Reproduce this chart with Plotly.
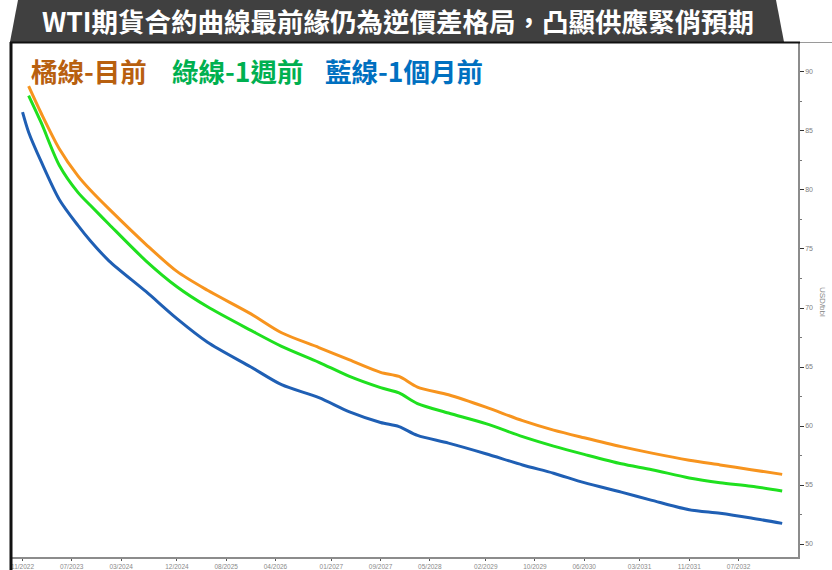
import plotly.graph_objects as go

# ---------------- data ----------------
months_common = ["2022-12", "2023-02", "2023-05", "2023-08", "2023-10", "2024-01", "2024-07",
                 "2024-12", "2025-05", "2025-12", "2026-05", "2026-11", "2027-04", "2027-09",
                 "2027-12", "2028-03", "2028-08", "2029-02", "2029-08", "2030-01", "2030-06",
                 "2030-12", "2031-05", "2031-11", "2032-04", "2032-09", "2033-02"]
months_blue = ["2022-11"] + months_common

orange_now = [88.8, 86.5, 83.5, 81.2, 80.0, 78.4, 75.4, 73.1, 71.5, 69.5, 67.9, 66.65, 65.6, 64.55,
              64.2, 63.3, 62.65, 61.6, 60.45, 59.65, 59.0, 58.25, 57.7, 57.1, 56.7, 56.3, 55.9]
green_1w = [88.0, 85.7, 82.1, 79.8, 78.7, 77.1, 74.0, 71.8, 70.1, 68.1, 66.75, 65.4, 64.2, 63.25,
            62.8, 61.9, 61.1, 60.2, 59.1, 58.3, 57.6, 56.8, 56.3, 55.6, 55.2, 54.9, 54.5]
blue_1m = [86.6, 84.9, 82.4, 79.2, 77.0, 75.7, 74.0, 71.4, 69.1, 67.1, 65.0, 63.5, 62.4, 61.2, 60.3,
           59.95, 59.2, 58.55, 57.65, 56.7, 56.0, 55.2, 54.4, 53.7, 52.9, 52.6, 52.2, 51.75]

x_tickvals = ["2022-11-01", "2023-07-01", "2024-03-01", "2024-12-01", "2025-08-01", "2026-04-01",
              "2027-01-01", "2027-09-01", "2028-05-01", "2029-02-01", "2029-10-01", "2030-06-01",
              "2031-03-01", "2031-11-01", "2032-07-01"]
x_ticktext = ["11/2022", "07/2023", "03/2024", "12/2024", "08/2025", "04/2026", "01/2027",
              "09/2027", "05/2028", "02/2029", "10/2029", "06/2030", "03/2031", "11/2031", "07/2032"]

title_text = "WTI期貨合約曲線最前緣仍為逆價差格局，凸顯供應緊俏預期"
legend_parts = [("橘線-目前", "#B8600F"), ("綠線-1週前", "#00B050"), ("藍線-1個月前", "#0070C0")]

# ---------------- layout geometry ----------------
W, H = 832, 570
L, R, T, B = 12, 798, 42, 557   # plot area in pixels


def px(x):
    return (x - L) / (R - L)


def py(y):
    return (B - y) / (B - T)


CJK = "Noto Sans CJK TC"

fig = go.Figure()
fig.add_trace(go.Scatter(x=months_blue, y=blue_1m, mode="lines",
                         line=dict(color="#1F5FB4", width=3, shape="spline", smoothing=0.8), name="藍線"))
fig.add_trace(go.Scatter(x=months_common, y=green_1w, mode="lines",
                         line=dict(color="#1FE01F", width=3, shape="spline", smoothing=0.8), name="綠線"))
fig.add_trace(go.Scatter(x=months_common, y=orange_now, mode="lines",
                         line=dict(color="#F7941E", width=3, shape="spline", smoothing=0.8), name="橘線"))

shapes = [
    # title banner (trapezoid)
    dict(type="path", xref="paper", yref="paper",
         path=f"M {px(10)} {py(42)} L {px(18)} {py(0)} L {px(776)} {py(0)} L {px(784)} {py(42)} Z",
         fillcolor="#404040", line=dict(width=0), layer="above"),
    # top frame line
    dict(type="line", xref="paper", yref="paper", x0=px(10), x1=px(800), y0=py(42.5), y1=py(42.5),
         line=dict(color="#111111", width=2)),
    dict(type="line", xref="paper", yref="paper", x0=px(800), x1=px(832), y0=py(42.5), y1=py(42.5),
         line=dict(color="#9A9A9A", width=1)),
    # left frame line
    dict(type="line", xref="paper", yref="paper", x0=px(11), x1=px(11), y0=py(42), y1=py(572),
         line=dict(color="#111111", width=3)),
]

annotations = [
    dict(text=f"<b>{title_text}</b>", xref="paper", yref="paper", x=px(398), y=py(21),
         xanchor="center", yanchor="middle", showarrow=False,
         font=dict(family=CJK, size=26.5, color="white")),
    dict(text="USD/bbl", xref="paper", yref="paper", x=px(823), y=py(302),
         xanchor="center", yanchor="middle", showarrow=False, textangle=90,
         font=dict(family="Liberation Sans", size=8, color="#8A8A8A")),
]
legend_x = [29, 170, 323]
for (txt, col), lx in zip(legend_parts, legend_x):
    annotations.append(dict(text=f"<b>{txt}</b>", xref="paper", yref="paper", x=px(lx), y=py(70),
                            xanchor="left", yanchor="middle", showarrow=False,
                            font=dict(family=CJK, size=26.5, color=col)))

fig.update_layout(
    width=W, height=H,
    margin=dict(l=L, r=W - R, t=T, b=H - B, pad=0),
    paper_bgcolor="white", plot_bgcolor="white",
    showlegend=False,
    shapes=shapes, annotations=annotations,
    xaxis=dict(type="date", range=["2022-09-10", "2033-04-20"],
               tickmode="array", tickvals=x_tickvals, ticktext=x_ticktext,
               ticks="outside", ticklen=2, tickcolor="#555555",
               tickfont=dict(family="Liberation Sans", size=6.5, color="#8A8A8A"),
               showgrid=False, zeroline=False, showline=True, linecolor="#8C8C8C", linewidth=1.5,
               automargin=False),
    yaxis=dict(side="right", range=[48.9, 92.54], tickmode="linear", tick0=50, dtick=5,
               ticks="outside", ticklen=4, tickcolor="#333333",
               minor=dict(dtick=2.5, ticks="outside", ticklen=2, tickcolor="#777777"),
               tickfont=dict(family="Liberation Sans", size=7, color="#808080"),
               showgrid=False, zeroline=False, showline=True, linecolor="#8C8C8C", linewidth=1.5,
               automargin=False),
)

fig.write_html("out.html")
